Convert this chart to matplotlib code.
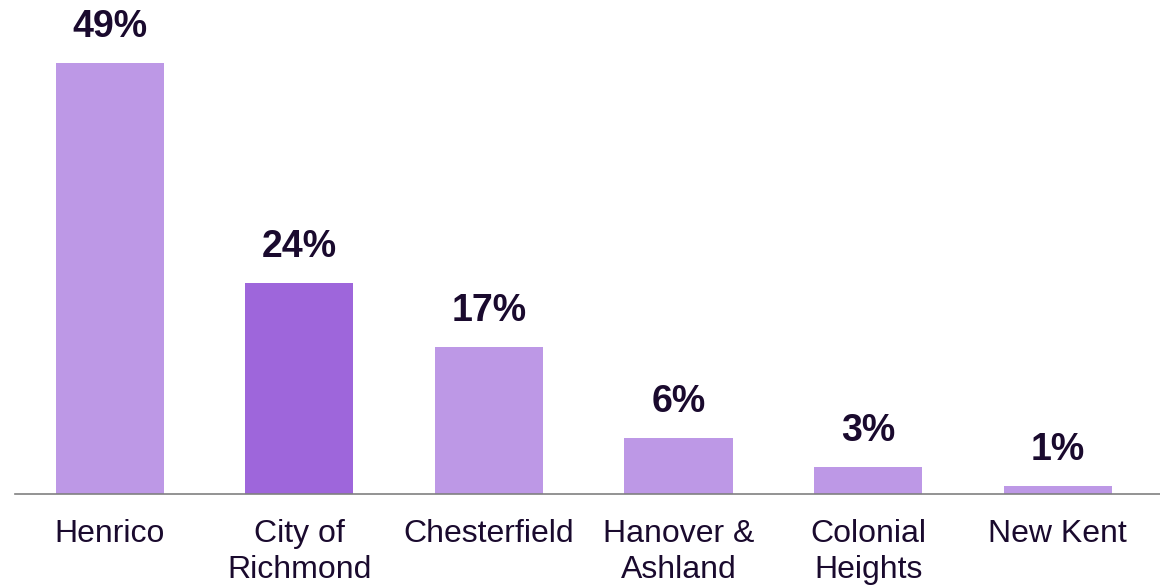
import matplotlib.pyplot as plt

# Share of respondents by locality
localities = ["Henrico", "City of\nRichmond", "Chesterfield", "Hanover &\nAshland",
              "Colonial\nHeights", "New Kent"]
shares = [49, 24, 16.7, 6.4, 3.1, 0.9]
share_labels = ["49%", "24%", "17%", "6%", "3%", "1%"]
highlight = "City of\nRichmond"

LIGHT = "#BD98E6"
DARK = "#9E66DB"
TEXT = "#1A0A2E"

plt.rcParams["font.family"] = ["Liberation Sans", "DejaVu Sans"]

fig = plt.figure(figsize=(11.6, 5.87), dpi=100)
ax = fig.add_axes([15 / 1160, 1 - 494 / 587, 1145 / 1160, 494 / 587])

colors = [DARK if name == highlight else LIGHT for name in localities]
x = range(len(localities))
bars = ax.bar(x, shares, width=0.57, color=colors, edgecolor="none")

for bar, label in zip(bars, share_labels):
    ax.annotate(label, (bar.get_x() + bar.get_width() / 2, bar.get_height()),
                xytext=(0, 13), textcoords="offset points", ha="center", va="bottom",
                fontsize=27, fontweight="bold", color=TEXT)

ax.set_xlim(-0.5, 5.54)
ax.set_ylim(0, 494 / (431 / 49))
ax.set_xticks(list(x))
ax.set_xticklabels(localities, fontsize=23, color=TEXT, linespacing=1.28)
ax.tick_params(axis="x", length=0, pad=18)
ax.set_yticks([])

for side in ["top", "right", "left"]:
    ax.spines[side].set_visible(False)
ax.spines["bottom"].set_color("#808080")
ax.spines["bottom"].set_linewidth(1.2)

fig.savefig("out.png", dpi=100)
